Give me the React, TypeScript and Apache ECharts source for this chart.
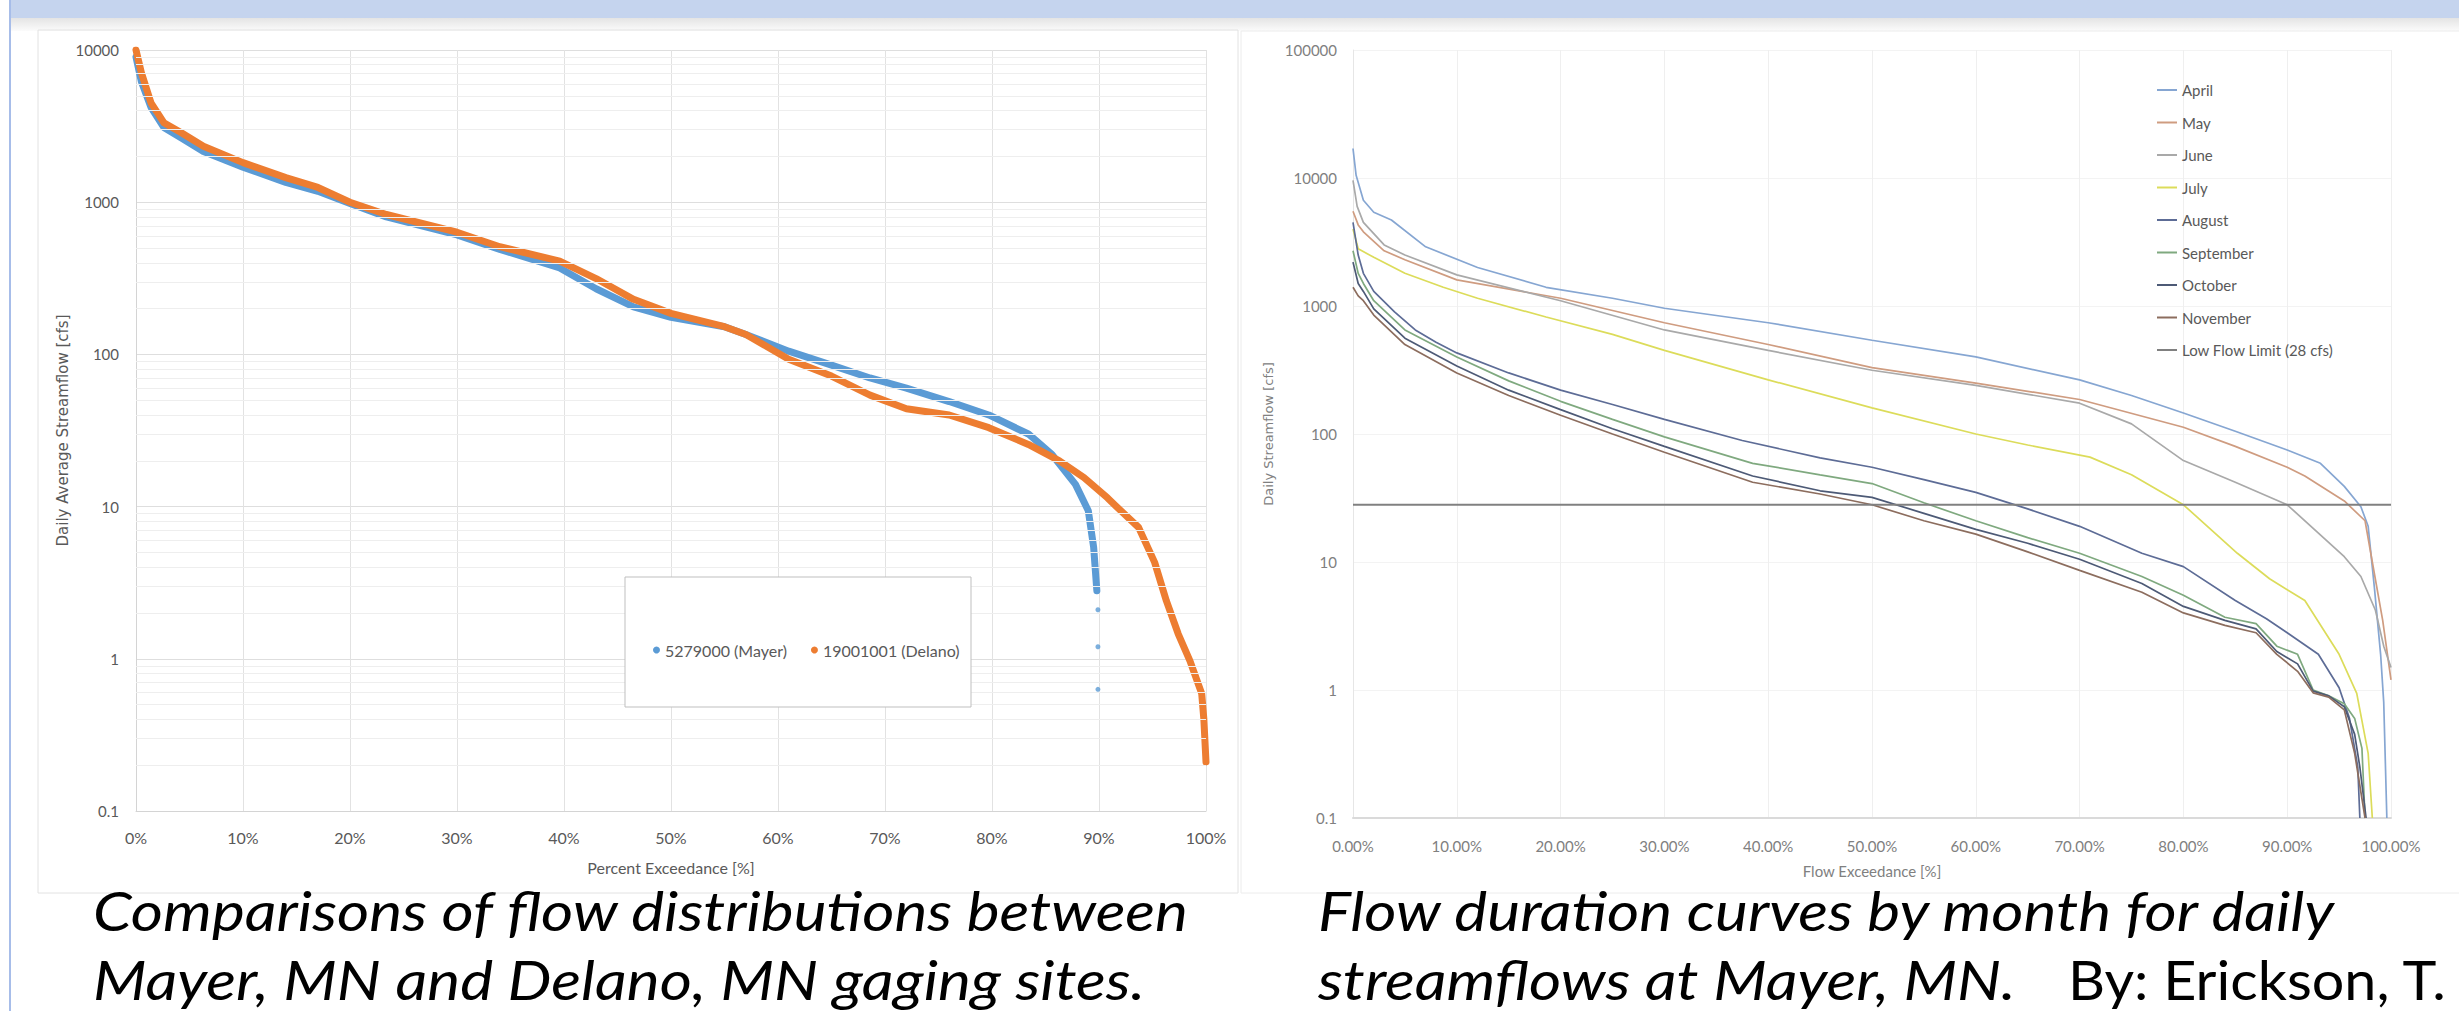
import React, { useEffect, useRef } from "react";
import * as echarts from "echarts";

// ---------- Left chart: Mayer vs Delano (percent exceedance, cfs) ----------
const mayer: number[][] = [
  [0, 9000], [0.5, 6200], [1.4, 4200], [2.6, 3100], [4.2, 2650], [6.3, 2150], [10, 1700],
  [14, 1350], [17, 1180], [20, 980], [23.4, 800], [30, 610], [34, 490], [39.6, 370],
  [43, 270], [46.5, 205], [50, 175], [55, 152], [57, 135], [61, 105], [65, 85], [68.6, 70],
  [72, 60], [76, 49], [79.7, 40], [83.4, 30], [85.6, 22], [87.8, 14], [89, 9.4], [89.5, 5.4],
  [89.8, 2.8],
];
const mayerTail: number[][] = [[89.9, 2.1], [89.9, 1.2], [89.9, 0.63]];
const delano: number[][] = [
  [0, 10000], [0.5, 7100], [1.4, 4500], [2.6, 3330], [4.2, 2870], [6.3, 2330], [10, 1820],
  [14, 1450], [17, 1250], [20, 1000], [23.4, 830], [30, 635], [34, 510], [39.6, 410],
  [43, 315], [46.5, 230], [50, 186], [55, 152], [57, 135], [61, 93], [65, 72], [68.6, 54],
  [72, 44], [76, 40], [79.7, 33], [83.4, 25.6], [86.3, 20], [88.6, 15.5], [90.8, 11.4],
  [91.5, 10.2], [93.7, 7.3], [95.2, 4.3], [96.3, 2.4], [97.4, 1.46], [98.5, 0.97],
  [99.6, 0.59], [99.8, 0.4], [100, 0.21],
];
const leftNames = ["5279000 (Mayer)", "19001001 (Delano)"];

// ---------- Right chart: monthly flow duration curves at Mayer ----------
const april: number[][] = [
  [0, 17000], [0.3, 10500], [1, 6700], [2, 5400], [3.7, 4700], [7, 2900], [12, 2000],
  [18.6, 1400], [25, 1150], [30, 960], [40, 740], [50, 540], [60, 400], [70, 265], [75, 200],
  [80, 146], [85, 105], [90, 75], [93.2, 59], [95.5, 39], [97.1, 27], [97.8, 19], [98.4, 6.3],
  [99, 1.9], [99.3, 0.8], [99.6, 0.1],
];
const may: number[][] = [
  [0, 5500], [0.5, 4300], [1, 3800], [3, 2700], [5, 2300], [10, 1600], [20, 1150], [30, 740],
  [40, 500], [50, 330], [60, 250], [70, 186], [80, 113], [85, 80], [90, 55], [91.7, 47],
  [95.5, 30], [97.5, 21], [98.2, 10], [99.2, 3.5], [100, 1.2],
];
const june: number[][] = [
  [0, 9600], [0.4, 6000], [1, 4500], [3, 3000], [5, 2500], [10, 1750], [20, 1100], [30, 650],
  [40, 450], [50, 315], [60, 240], [70, 174], [75, 120], [80, 62], [85, 42], [90, 28],
  [95.5, 11], [97.1, 7.7], [98.5, 4.2], [99.3, 2.2], [100, 1.5],
];
const july: number[][] = [
  [0, 4000], [0.5, 2800], [2, 2400], [5, 1800], [8.7, 1400], [12, 1150], [18.6, 820],
  [25, 600], [30, 450], [40, 265], [50, 160], [60, 100], [65, 82], [71, 66], [75, 48],
  [80, 28], [85.2, 11.7], [88.3, 7.4], [91.7, 5], [95, 1.9], [96.7, 0.94], [97.8, 0.32],
  [98.2, 0.1],
];
const august: number[][] = [
  [0, 4500], [0.5, 2500], [1, 1800], [2, 1300], [4, 900], [6, 650], [8, 520], [10, 430],
  [15, 300], [20, 220], [25, 170], [30, 130], [37.5, 89], [45, 65], [50, 55], [55, 44],
  [60, 35], [65, 26], [70, 19], [76, 11.7], [80, 9.2], [85, 5], [88, 3.6], [90, 2.8],
  [93, 1.9], [95, 1.04], [96, 0.6], [96.8, 0.25], [97, 0.1],
];
const september: number[][] = [
  [0, 2700], [0.5, 1800], [1, 1500], [2, 1100], [5, 650], [10, 400], [15, 260], [20, 180],
  [25, 130], [30, 95], [38.5, 59], [45, 48], [50, 41], [55, 29], [60, 21], [65, 15.5],
  [70, 11.7], [76, 7.7], [80, 5.5], [84, 3.7], [87, 3.3], [89, 2.2], [91, 1.9], [92.5, 1.0],
  [94, 0.9], [95.5, 0.78], [96.5, 0.6], [97.2, 0.35], [97.5, 0.1],
];
const october: number[][] = [
  [0, 2200], [0.5, 1500], [1, 1300], [2, 950], [5, 560], [10, 340], [15, 220], [20, 155],
  [25, 110], [30, 80], [38.5, 47], [45, 36], [50, 32], [55, 24], [60, 18], [65, 14],
  [70, 10.5], [76, 6.8], [80, 4.5], [84, 3.5], [87, 3.0], [89, 2.0], [91, 1.6], [92.5, 0.98],
  [94, 0.9], [95.5, 0.74], [96.5, 0.45], [97, 0.25], [97.6, 0.1],
];
const november: number[][] = [
  [0, 1400], [0.5, 1200], [1, 1100], [2, 850], [5, 500], [10, 300], [15, 200], [20, 140],
  [25, 100], [30, 72], [38.5, 42], [45, 34], [50, 28], [55, 21], [60, 16.5], [65, 12],
  [70, 8.6], [76, 5.8], [80, 4.0], [84, 3.2], [87, 2.8], [89, 1.9], [91, 1.4], [92.5, 0.95],
  [94, 0.88], [95.5, 0.7], [96.5, 0.32], [97.5, 0.1],
];
const lowFlow: number[][] = [[0, 28], [100, 28]];

const monthNames = [
  "April", "May", "June", "July", "August", "September", "October", "November",
  "Low Flow Limit (28 cfs)",
];
const monthData = [april, may, june, july, august, september, october, november, lowFlow];
const monthColors = [
  "#86a6d2", "#cf9c80", "#a9a9a9", "#dcdc5a", "#5d6c96", "#7fa97f", "#4d5a76", "#8c6d5e",
  "#808080",
];

// Minor log gridline values for the left chart (2..9 within each decade)
const minorMultipliers = [2, 3, 4, 5, 6, 7, 8, 9];
const minorDecades = [0.1, 1, 10, 100, 1000];

const fmtLog = (v: number) => String(+Number(v).toPrecision(6));

export default function App() {
  const ref = useRef<HTMLDivElement>(null);

  useEffect(() => {
    document.body.style.margin = "0";
    if (!ref.current) return;
    const chart = echarts.init(ref.current, undefined, { renderer: "svg" });

    const minorVals: number[] = [];
    minorDecades.forEach((d) => minorMultipliers.forEach((m) => minorVals.push(+(d * m).toPrecision(6))));

    const labelFont = "Lato";
    const capItalic = { fontSize: 55, fontFamily: "Lato", fontStyle: "italic", fill: "#000", verticalAlign: "middle" };
    const capUpright = { fontSize: 55, fontFamily: "Lato", fill: "#000", verticalAlign: "middle" };

    const option: any = {
      animation: false,
      backgroundColor: "#ffffff",
      grid: [
        { left: 136, top: 50, width: 1070, height: 761 },
        { left: 1353, top: 50, width: 1038, height: 768 },
      ],
      xAxis: [
        {
          gridIndex: 0, type: "value", min: 0, max: 100, interval: 10,
          axisLine: { show: true, onZero: false, lineStyle: { color: "#d4d4d4" } },
          axisTick: { show: false },
          axisLabel: { formatter: (v: number) => `${v}%`, color: "#595959", fontSize: 16, fontFamily: labelFont, margin: 18 },
          splitLine: { show: true, lineStyle: { color: "#e2e2e2" } },
          name: "Percent Exceedance [%]", nameLocation: "middle", nameGap: 48,
          nameTextStyle: { color: "#595959", fontSize: 16, fontFamily: labelFont },
        },
        {
          gridIndex: 1, type: "value", min: 0, max: 100, interval: 10,
          axisLine: { show: true, onZero: false, lineStyle: { color: "#dadada", width: 2 } },
          axisTick: { show: false },
          axisLabel: { formatter: (v: number) => `${v.toFixed(2)}%`, color: "#808080", fontSize: 15, fontFamily: labelFont, margin: 20 },
          splitLine: { show: true, lineStyle: { color: "#efefef" } },
          name: "Flow Exceedance [%]", nameLocation: "middle", nameGap: 45,
          nameTextStyle: { color: "#808080", fontSize: 15, fontFamily: labelFont },
        },
      ],
      yAxis: [
        {
          gridIndex: 0, type: "log", logBase: 10, min: 0.1, max: 10000,
          axisLine: { show: true, lineStyle: { color: "#d4d4d4" } },
          axisTick: { show: false },
          axisLabel: { formatter: fmtLog, color: "#595959", fontSize: 15, fontFamily: labelFont, margin: 17 },
          splitLine: { show: true, lineStyle: { color: "#dedede" } },
          name: "Daily Average Streamflow [cfs]", nameLocation: "middle", nameGap: 66,
          nameTextStyle: { color: "#595959", fontSize: 15, fontFamily: "DejaVu Sans" },
        },
        {
          gridIndex: 1, type: "log", logBase: 10, min: 0.1, max: 100000,
          axisLine: { show: true, lineStyle: { color: "#e6e6e6" } },
          axisTick: { show: false },
          axisLabel: { formatter: fmtLog, color: "#808080", fontSize: 15, fontFamily: labelFont, margin: 16 },
          splitLine: { show: true, lineStyle: { color: "#f3f3f3" } },
          name: "Daily Streamflow [cfs]", nameLocation: "middle", nameGap: 78,
          nameTextStyle: { color: "#808080", fontSize: 13, fontFamily: "DejaVu Sans" },
        },
      ],
      legend: [
        {
          data: leftNames, orient: "horizontal", left: 648, top: 637, icon: "circle",
          itemWidth: 7, itemHeight: 7, itemGap: 24, z: 20,
          textStyle: { color: "#595959", fontSize: 16, fontFamily: labelFont },
        },
        {
          data: monthNames, orient: "vertical", left: 2152, top: 76, icon: "rect",
          itemWidth: 20, itemHeight: 2, itemGap: 14.5, z: 20,
          textStyle: { color: "#595959", fontSize: 15, lineHeight: 18, fontFamily: labelFont },
        },
      ],
      series: [
        {
          type: "line", xAxisIndex: 0, yAxisIndex: 0, data: [], z: 1, silent: true,
          markLine: {
            silent: true, symbol: "none", label: { show: false },
            lineStyle: { color: "#eeeeee", width: 1, type: "solid" },
            data: minorVals.map((v) => ({ yAxis: v })),
          },
        },
        {
          name: leftNames[0], type: "line", xAxisIndex: 0, yAxisIndex: 0, data: mayer,
          showSymbol: false, itemStyle: { color: "#5b9bd5" },
          lineStyle: { color: "#5b9bd5", width: 7, cap: "round", join: "round" }, z: 3,
        },
        {
          name: leftNames[0], type: "scatter", xAxisIndex: 0, yAxisIndex: 0, data: mayerTail,
          symbolSize: 5, itemStyle: { color: "#5b9bd5" }, z: 3,
        },
        {
          name: leftNames[1], type: "line", xAxisIndex: 0, yAxisIndex: 0, data: delano,
          showSymbol: false, itemStyle: { color: "#ed7d31" },
          lineStyle: { color: "#ed7d31", width: 7, cap: "round", join: "round" }, z: 4,
        },
        ...monthNames.map((n, i) => ({
          name: n, type: "line", xAxisIndex: 1, yAxisIndex: 1, data: monthData[i],
          showSymbol: false, itemStyle: { color: monthColors[i] },
          lineStyle: { color: monthColors[i], width: i === 8 ? 2.2 : 1.7 },
          z: 3,
        })),
      ],
      graphic: [
        { type: "rect", z: -10, shape: { x: 10, y: 0, width: 2449, height: 18 }, style: { fill: "#c5d4ee" } },
        { type: "rect", z: -10, shape: { x: 9, y: 0, width: 2, height: 1011 }, style: { fill: "#a7bde9" } },
        {
          type: "rect", z: -10, shape: { x: 11, y: 18, width: 2448, height: 13 },
          style: {
            fill: new echarts.graphic.LinearGradient(0, 0, 0, 1, [
              { offset: 0, color: "#e4e4e4" }, { offset: 1, color: "#fbfbfb" },
            ]),
          },
        },
        { type: "rect", z: -9, shape: { x: 38, y: 30, width: 1200, height: 863 }, style: { fill: "none", stroke: "#e2e2e2", lineWidth: 1 } },
        { type: "rect", z: -9, shape: { x: 1241, y: 31, width: 1230, height: 862 }, style: { fill: "none", stroke: "#ececec", lineWidth: 1 } },
        { type: "rect", z: 10, shape: { x: 625, y: 577, width: 346, height: 130 }, style: { fill: "#ffffff", stroke: "#bfbfbf", lineWidth: 1 } },
        { type: "text", z: 30, x: 93, y: 909, scaleX: 1.13, style: { ...capItalic, text: "Comparisons of flow distributions between" } },
        { type: "text", z: 30, x: 93, y: 978, scaleX: 1.13, style: { ...capItalic, text: "Mayer, MN and Delano, MN gaging sites." } },
        { type: "text", z: 30, x: 1318, y: 909, scaleX: 1.13, style: { ...capItalic, text: "Flow duration curves by month for daily" } },
        { type: "text", z: 30, x: 1318, y: 978, scaleX: 1.13, style: { ...capItalic, text: "streamflows at Mayer, MN." } },
        { type: "text", z: 30, x: 2068, y: 978, scaleX: 1.045, style: { ...capUpright, text: "By: Erickson, T." } },
      ],
    };

    chart.setOption(option);
    return () => chart.dispose();
  }, []);

  return <div ref={ref} style={{ position: "fixed", left: 0, top: 0, width: 2459, height: 1011 }} />;
}
